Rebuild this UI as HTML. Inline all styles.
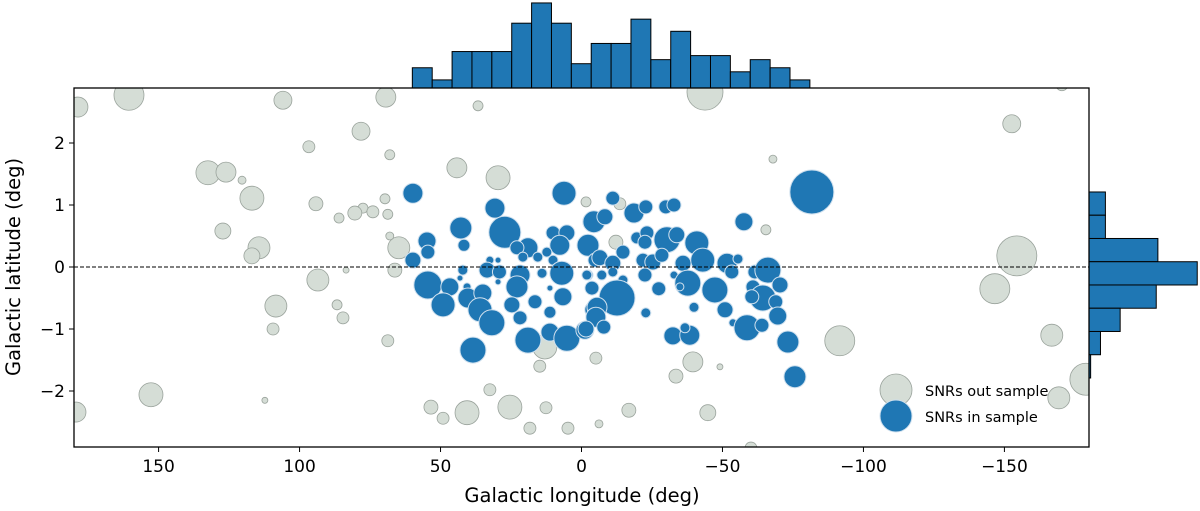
<!DOCTYPE html>
<html><head><meta charset="utf-8"><style>
body{margin:0;background:#fff;}
svg{display:block;font-family:"DejaVu Sans","Liberation Sans",sans-serif;}
</style></head><body>
<svg id="chart" width="1200" height="511" viewBox="0 0 1200 511"></svg>
<script>
// ---- data ----
const inLon=[59.8,30.7,6.2,42.8,27.2,54.8,41.7,59.8,54.5,-4.0,10.1,5.2,7.7,-2.3,19.0,22.9,20.8,12.3,15.5,10.1,-4.8,32.5,29.6,42.1,33.5,29.1,21.8,14.0,7.0,-2.3,54.5,46.7,43.1,40.6,40.3,35.0,49.1,36.0,31.8,29.6,22.9,24.7,21.8,16.5,11.2,11.2,6.6,-4.0,-4.0,19.0,11.2,5.2,-1.2,38.5,-11.1,-4.4,-8.3,-18.6,-22.8,-29.9,-32.8,-57.6,-81.7,-6.5,-14.7,-11.1,-19.6,-23.2,-22.5,-30.3,-33.8,-40.9,-21.8,-25.3,-28.5,-36.0,-43.0,-51.6,-55.5,-1.9,-7.2,-11.1,-14.7,-22.5,-32.8,-37.7,-34.9,-47.3,-53.3,-61.5,-66.1,-70.4,-60.8,-64.3,-60.4,-68.9,-3.7,-12.6,-5.5,-5.1,-1.6,-7.9,-27.4,-22.8,-39.9,-50.9,-69.6,-32.4,-38.4,-36.7,-53.7,-58.7,-64.0,-73.2,-75.7];
const inLat=[1.19,0.95,1.19,0.63,0.56,0.42,0.35,0.11,0.24,0.73,0.55,0.55,0.35,0.35,0.31,0.31,0.16,0.24,0.16,0.11,0.11,0.11,0.11,-0.05,-0.05,-0.08,-0.13,-0.10,-0.10,-0.13,-0.29,-0.32,-0.18,-0.32,-0.50,-0.42,-0.61,-0.69,-0.90,-0.24,-0.32,-0.61,-0.82,-0.56,-0.73,-0.34,-0.48,-0.34,-0.69,-1.18,-1.05,-1.15,-1.02,-1.34,1.11,0.73,0.81,0.87,0.97,0.97,1.0,0.73,1.21,0.15,0.24,0.06,0.47,0.55,0.40,0.44,0.52,0.39,0.11,0.08,0.19,0.06,0.11,0.06,0.13,-0.13,-0.13,-0.08,-0.21,-0.13,-0.13,-0.26,-0.32,-0.37,-0.08,-0.08,-0.05,-0.29,-0.32,-0.50,-0.48,-0.56,-0.34,-0.50,-0.65,-0.81,-1.0,-0.97,-0.35,-0.74,-0.65,-0.69,-0.79,-1.11,-1.10,-0.98,-0.90,-0.98,-0.94,-1.21,-1.77];
const inSize=[100,100,144,121,256,81,36,64,49,100,49,64,100,121,100,49,25,25,25,25,49,16,9,25,64,49,100,25,144,25,196,81,9,16,100,81,144,144,169,9,121,64,49,49,36,9,81,36,64,169,81,169,81,169,49,121,64,100,49,49,49,81,484,64,49,64,36,49,49,169,64,144,49,64,49,64,144,100,25,25,25,25,25,49,16,169,16,169,49,49,169,64,49,169,49,49,49,324,100,100,64,49,49,25,25,64,81,81,100,25,16,169,49,121,121];
const outLon=[178.6,160.5,105.9,69.4,36.7,78.2,96.7,68.0,132.5,126.1,120.4,116.9,44.2,29.6,-67.9,94.2,86.0,77.5,74.0,80.4,69.7,68.7,127.2,114.4,116.9,64.8,68.0,93.5,83.5,66.2,108.4,86.7,84.6,109.4,68.7,-65.4,-1.6,-13.6,-12.2,-11.1,13.0,14.8,-39.5,-33.5,-49.1,-5.1,-16.8,-6.2,32.5,49.1,53.4,40.6,25.4,12.6,18.3,4.8,-44.8,-91.6,-60.1,-152.6,-154.4,-146.6,-166.8,-178.9,-169.3,-170.4,-43.8,152.7,112.3,179.3];
const outLat=[2.58,2.77,2.69,2.74,2.60,2.19,1.94,1.81,1.52,1.53,1.40,1.11,1.60,1.44,1.74,1.02,0.79,0.95,0.89,0.87,1.10,0.85,0.58,0.31,0.18,0.31,0.50,-0.21,-0.05,-0.05,-0.63,-0.61,-0.82,-1.0,-1.19,0.60,1.05,1.02,0.40,-0.60,-1.29,-1.60,-1.53,-1.76,-1.61,-1.47,-2.31,-2.53,-1.98,-2.44,-2.26,-2.35,-2.26,-2.27,-2.60,-2.60,-2.35,-1.19,-2.92,2.31,0.18,-0.35,-1.10,-1.81,-2.11,2.94,2.82,-2.06,-2.15,-2.34];
const outSize=[100,225,81,100,25,81,36,25,144,100,16,144,100,144,16,49,25,25,36,49,25,25,64,121,64,121,16,121,9,49,121,25,36,36,36,25,25,36,49,49,144,36,100,49,9,36,49,16,36,36,49,144,144,36,36,36,64,225,36,81,400,225,121,256,121,36,324,144,9,100];
const lonHistCounts=[5,2,9,9,9,16,21,16,6,11,11,17,7,14,8,8,4,7,5,2];
const lonHistStart=60, lonHistBin=7.05;
const latHistCounts=[10,10,42,66,41,19,7,1];
const latHistTop=1.21, latHistBin=0.375;
const xTicks=[150,100,50,0,-50,-100,-150];
const yTicks=[2,1,0,-1,-2];

// ---- layout ----
const L=74,R=1089,T=88,B=447;
const xS=v=>L+(180-v)/360*(R-L);
const yS=v=>267-v*62;
const NS="http://www.w3.org/2000/svg";
const svg=document.getElementById('chart');
function mk(tag,attrs,parent){const e=document.createElementNS(NS,tag);for(const k in attrs)e.setAttribute(k,attrs[k]);(parent||svg).appendChild(e);return e;}

const defs=mk('defs',{});
const cp=mk('clipPath',{id:'plotclip'},defs);
mk('rect',{x:L,y:T,width:R-L,height:B-T},cp);

const topH=mk('g',{});


const cUnitX=4.05;
lonHistCounts.forEach((c,i)=>{
  const x1=xS(lonHistStart-i*lonHistBin), x2=xS(lonHistStart-(i+1)*lonHistBin);
  const r=mk('rect',{x:x1,y:T-c*cUnitX,width:x2-x1,height:c*cUnitX,fill:'#1f77b4',stroke:'#000','stroke-width':1},topH);
  
  
});
const rH=mk('g',{});


const cUnitY=1.64;
latHistCounts.forEach((c,i)=>{
  const y1=yS(latHistTop-i*latHistBin), y2=yS(latHistTop-(i+1)*latHistBin);
  const r=mk('rect',{x:R,y:y1,width:c*cUnitY,height:y2-y1,fill:'#1f77b4',stroke:'#000','stroke-width':1},rH);
  
  
});

mk('rect',{x:L,y:T,width:R-L,height:B-T,fill:'#fff'});
const pg=mk('g',{'clip-path':'url(#plotclip)'});
outLon.forEach((v,i)=>{
  const c=mk('circle',{cx:xS(v),cy:yS(outLat[i]),r:Math.sqrt(outSize[i]),fill:'#d5ddd6',stroke:'#9aa39c','stroke-width':0.8},pg);
  
  
});
inLon.forEach((v,i)=>{
  const c=mk('circle',{cx:xS(v),cy:yS(inLat[i]),r:Math.sqrt(inSize[i]),fill:'#1f77b4',stroke:'#cfe0ee','stroke-width':1},pg);
  
  
});
const zl=mk('line',{x1:L,x2:R,y1:yS(0),y2:yS(0),stroke:'#000','stroke-width':1,'stroke-dasharray':'4,2'});


const fr=mk('rect',{x:L,y:T,width:R-L,height:B-T,fill:'none',stroke:'#000','stroke-width':1.3});



xTicks.forEach(t=>{
  const x=xS(t);
  mk('line',{x1:x,x2:x,y1:B,y2:B+5,stroke:'#000','stroke-width':1});
  const tx=mk('text',{x:x,y:B+25,'text-anchor':'middle','font-size':17,fill:'#000'});
  tx.textContent=t<0?'\u2212'+(-t):String(t);
  
  
});
yTicks.forEach(t=>{
  const y=yS(t);
  mk('line',{x1:L-5,x2:L,y1:y,y2:y,stroke:'#000','stroke-width':1});
  const tx=mk('text',{x:L-9,y:y+6,'text-anchor':'end','font-size':17,fill:'#000'});
  tx.textContent=t<0?'\u2212'+(-t):String(t);
  
  
});

const xl=mk('text',{x:582,y:502,'text-anchor':'middle','font-size':19.5,fill:'#000'});
xl.textContent='Galactic longitude (deg)';


const yl=mk('text',{x:0,y:0,transform:'translate(20,267) rotate(-90)','text-anchor':'middle','font-size':19.5,fill:'#000'});
yl.textContent='Galactic latitude (deg)';


const lg1=mk('circle',{cx:896,cy:390,r:16,fill:'#d5ddd6',stroke:'#9aa39c','stroke-width':0.8});


const lt1=mk('text',{x:925,y:396,'font-size':14.5,fill:'#000'});
lt1.textContent='SNRs out sample';


const lg2=mk('circle',{cx:896,cy:416,r:16,fill:'#1f77b4',stroke:'#cfe0ee','stroke-width':1});


const lt2=mk('text',{x:925,y:422,'font-size':14.5,fill:'#000'});
lt2.textContent='SNRs in sample';


</script>
</body></html>
